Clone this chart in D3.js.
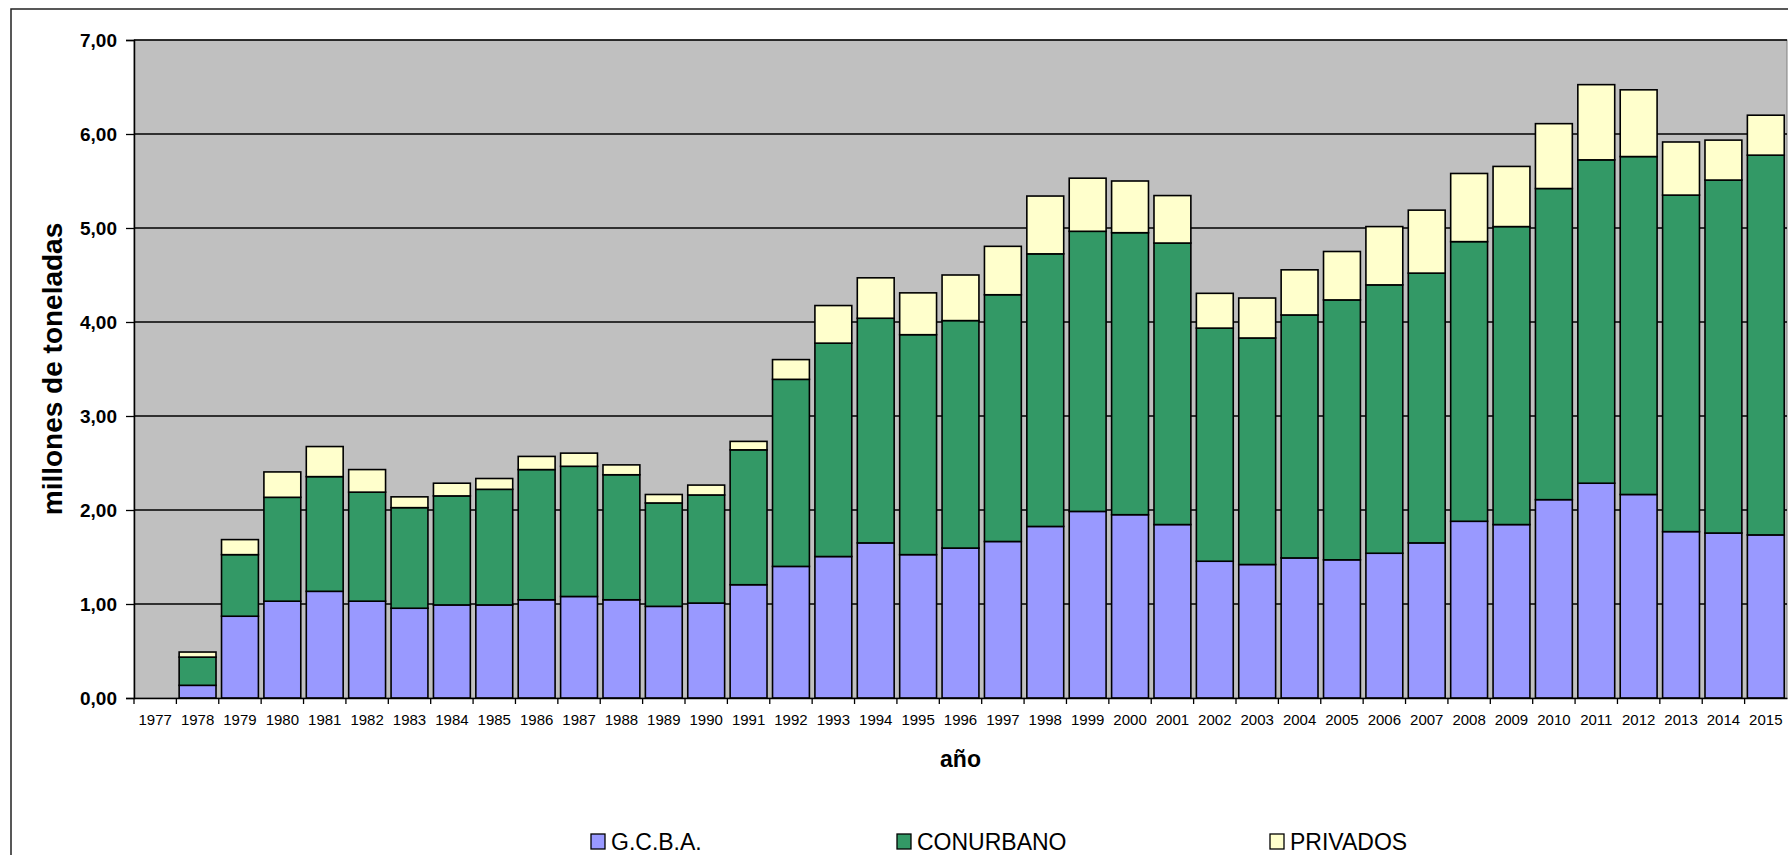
<!DOCTYPE html>
<html>
<head>
<meta charset="utf-8">
<script src="https://cdn.jsdelivr.net/npm/d3@7"></script>
<style>
  body { margin: 0; background: #fff; }
  text { font-family: "Liberation Sans", Arial, sans-serif; }
</style>
</head>
<body>
<svg id="chart" width="1788" height="855"></svg>
<script>
// años 1977 - 2015 (1977 sin datos)
let years = ["1977","1978","1979","1980","1981","1982","1983","1984","1985","1986",
             "1987","1988","1989","1990","1991","1992","1993","1994","1995","1996",
             "1997","1998","1999","2000","2001","2002","2003","2004","2005","2006",
             "2007","2008","2009","2010","2011","2012","2013","2014","2015"];

// millones de toneladas por origen
let gcba = [0, 0.135, 0.87, 1.03, 1.135, 1.03, 0.955, 0.99, 0.99, 1.045,
            1.08, 1.045, 0.975, 1.01, 1.205, 1.40, 1.505, 1.65, 1.525, 1.595,
            1.665, 1.825, 1.985, 1.95, 1.845, 1.455, 1.42, 1.49, 1.47, 1.54,
            1.65, 1.88, 1.845, 2.11, 2.285, 2.165, 1.77, 1.755, 1.735];
let conurbano = [0, 0.30, 0.655, 1.105, 1.22, 1.16, 1.07, 1.16, 1.23, 1.385,
                 1.385, 1.33, 1.10, 1.15, 1.435, 1.99, 2.27, 2.39, 2.34, 2.42,
                 2.625, 2.90, 2.98, 3.0, 2.995, 2.48, 2.41, 2.585, 2.765, 2.855,
                 2.87, 2.975, 3.17, 3.31, 3.44, 3.595, 3.58, 3.755, 4.04];
let privados = [0, 0.054, 0.16, 0.27, 0.32, 0.24, 0.115, 0.135, 0.115, 0.14,
                0.14, 0.105, 0.09, 0.105, 0.09, 0.21, 0.40, 0.43, 0.445, 0.485,
                0.515, 0.615, 0.565, 0.55, 0.505, 0.37, 0.425, 0.48, 0.515, 0.62,
                0.67, 0.725, 0.64, 0.69, 0.80, 0.71, 0.565, 0.425, 0.425];

let keys = ["G.C.B.A.", "CONURBANO", "PRIVADOS"];
let colors = ["#9999FF", "#339966", "#FFFFCC"];
let yTicks = [0, 1, 2, 3, 4, 5, 6, 7];

let data = years.map(function(y, i) {
    let row = { year: y };
    row[keys[0]] = gcba[i];
    row[keys[1]] = conurbano[i];
    row[keys[2]] = privados[i];
    return row;
});

let svg = d3.select("#chart");
let margin = { top: 40, left: 134, right: 1787, bottom: 698 };

let locale = d3.formatLocale({ decimal: ",", thousands: ".", grouping: [3], currency: ["$", ""] });
let fmt = locale.format(".2f");

let x = d3.scaleBand()
    .domain(years)
    .range([margin.left, margin.right])
    .paddingInner(0.13)
    .paddingOuter(0.065);

let y = d3.scaleLinear()
    .domain([0, 7])
    .range([margin.bottom, margin.top]);

let z = d3.scaleOrdinal().domain(keys).range(colors);

// marco exterior
svg.append("rect")
    .attr("x", 11).attr("y", 9)
    .attr("width", 1800).attr("height", 870)
    .attr("fill", "#fff")
    .attr("stroke", "#222")
    .attr("stroke-width", 1.5);

// area de trazado
svg.append("rect")
    .attr("x", margin.left).attr("y", margin.top)
    .attr("width", margin.right - margin.left)
    .attr("height", margin.bottom - margin.top)
    .attr("fill", "#C0C0C0")
    .attr("stroke", "#808080")
    .attr("stroke-width", 1);

// lineas de division
svg.append("g")
    .selectAll("line")
    .data(yTicks.slice(1))
    .enter().append("line")
    .attr("x1", margin.left).attr("x2", margin.right)
    .attr("y1", d => y(d)).attr("y2", d => y(d))
    .attr("stroke", "#000")
    .attr("stroke-width", 1.3);

// barras apiladas
let series = d3.stack().keys(keys)(data);

svg.append("g")
    .selectAll("g")
    .data(series)
    .enter().append("g")
    .attr("fill", d => z(d.key))
    .selectAll("rect")
    .data(d => d.filter(s => s[1] - s[0] > 0))
    .enter().append("rect")
    .attr("x", d => x(d.data.year))
    .attr("y", d => y(d[1]))
    .attr("width", x.bandwidth())
    .attr("height", d => y(d[0]) - y(d[1]))
    .attr("stroke", "#000")
    .attr("stroke-width", 1.6);

// eje y
let yAxis = svg.append("g")
    .attr("transform", `translate(${margin.left},0)`)
    .call(d3.axisLeft(y).tickValues(yTicks).tickFormat(fmt).tickSize(8).tickPadding(9));
yAxis.select(".domain").attr("stroke", "#000").attr("stroke-width", 1.5);
yAxis.selectAll(".tick line").attr("stroke", "#000").attr("stroke-width", 1.3);
yAxis.selectAll("text")
    .attr("font-size", "19px")
    .attr("font-weight", "bold")
    .attr("fill", "#000")
    .attr("font-family", "'Liberation Sans', Arial, sans-serif");

// eje x
let xAxis = svg.append("g")
    .attr("transform", `translate(0,${margin.bottom})`)
    .call(d3.axisBottom(x).tickSize(0).tickPadding(16));
xAxis.select(".domain").attr("stroke", "#000").attr("stroke-width", 1.5);
xAxis.selectAll("text")
    .attr("font-size", "15px")
    .attr("fill", "#000")
    .attr("font-family", "'Liberation Sans', Arial, sans-serif");

// marcas entre categorias
let step = x.step();
xAxis.selectAll(".sep")
    .data(years)
    .enter().append("line")
    .attr("class", "sep")
    .attr("x1", (d, i) => margin.left + i * step)
    .attr("x2", (d, i) => margin.left + i * step)
    .attr("y1", 0).attr("y2", 6)
    .attr("stroke", "#000")
    .attr("stroke-width", 1.3);

// titulos de ejes
svg.append("text")
    .attr("transform", `translate(62,${(margin.top + margin.bottom) / 2}) rotate(-90)`)
    .attr("text-anchor", "middle")
    .attr("font-size", "28px")
    .attr("font-weight", "bold")
    .text("millones de toneladas");

svg.append("text")
    .attr("x", (margin.left + margin.right) / 2)
    .attr("y", 767)
    .attr("text-anchor", "middle")
    .attr("font-size", "23px")
    .attr("font-weight", "bold")
    .text("año");

// leyenda
let legendX = [591, 897, 1270];
let legend = svg.selectAll(".legend")
    .data(keys)
    .enter().append("g")
    .attr("class", "legend")
    .attr("transform", (d, i) => `translate(${legendX[i]},834)`);

legend.append("rect")
    .attr("width", 14).attr("height", 15)
    .attr("fill", z)
    .attr("stroke", "#000")
    .attr("stroke-width", 1.3);

legend.append("text")
    .attr("x", 20)
    .attr("y", 16)
    .attr("font-size", "23px")
    .text(d => d);
</script>
</body>
</html>
